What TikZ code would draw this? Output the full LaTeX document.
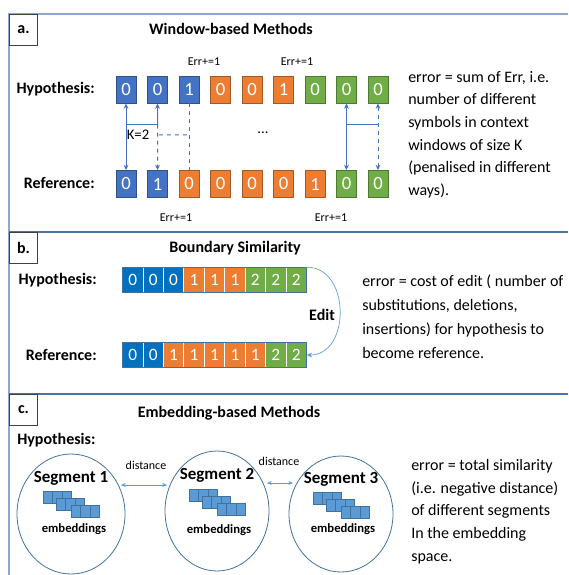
\documentclass[tikz,border=0pt]{standalone}
\usepackage{fontspec}
\setmainfont{Carlito}
\usetikzlibrary{arrows.meta,shapes.geometric,calc}
\definecolor{cblue}{HTML}{4472C4}
\definecolor{corange}{HTML}{ED7D31}
\definecolor{cgreen}{HTML}{70AD47}
\definecolor{sblue}{HTML}{0070C0}
\definecolor{framecol}{HTML}{4A74A3}
\definecolor{framelight}{HTML}{8CA8CB}
\definecolor{lblue}{HTML}{5B9BD5}
\definecolor{ellcol}{HTML}{41719C}
\definecolor{embfill}{HTML}{5B9BD5}
\begin{document}
\begin{tikzpicture}[x=0.75pt,y=-0.75pt,
  tok/.style={draw=#1!70!black, fill=#1, text=white, minimum width=15pt, minimum height=20.25pt, inner sep=0pt, line width=0.6pt, font=\fontsize{14}{14}\selectfont},
  cell/.style={draw=white, fill=#1, text=white, minimum width=15.33pt, minimum height=18.75pt, inner sep=0pt, line width=0.5pt, font=\fontsize{13}{13}\selectfont},
  lab/.style={font=\bfseries\fontsize{12}{14}\selectfont, inner sep=0pt},
  small/.style={font=\fontsize{9}{11}\selectfont, inner sep=1pt},
  desc/.style={align=left, anchor=base west, inner sep=0pt},
  pbox/.style={draw=black!75, fill=white, line width=0.8pt, minimum width=21pt, minimum height=23.25pt, inner sep=0pt, anchor=north west, font=\bfseries\fontsize{12}{14}\selectfont},
  frame/.style={framecol, line width=1.1pt},
  warr/.style={cblue, line width=0.75pt, {Stealth[length=4pt,width=3.5pt]}-{Stealth[length=4pt,width=3.5pt]}},
  wline/.style={cblue, line width=0.75pt},
  darr/.style={lblue, line width=0.7pt, {Stealth[length=3.5pt,width=3pt]}-{Stealth[length=3.5pt,width=3pt]}},
  seg/.style={draw=ellcol, line width=0.6pt, ellipse, inner sep=0pt},
  segname/.style={font=\bfseries\fontsize{12.75}{15}\selectfont, inner sep=0pt},
  emb/.style={font=\bfseries\fontsize{9.5}{11}\selectfont, inner sep=0pt},
  sq/.style={fill=embfill, draw=ellcol, line width=0.4pt},
]
\useasboundingbox (0,0) rectangle (568,575);
% frame
\draw[framelight, line width=1.1pt] (9,575) -- (9,14) -- (568,14);
\draw[frame] (9,232) -- (568,232);
\draw[frame] (9,394) -- (568,394);
\node[pbox] (pa) at (9,14) {a.};
\node[pbox] (pb) at (9,232) {b.};
\node[pbox] (pc) at (9,394) {c.};

% ---------- panel a
\node[lab] (ta) at (231,29) {Window-based Methods};
\node[lab, anchor=east] (hypa) at (95,89) {Hypothesis:};
\node[lab, anchor=east] (refa) at (95,183) {Reference:};
\foreach \v/\c [count=\i] in {0/cblue,0/cblue,1/cblue,0/corange,0/corange,1/corange,0/cgreen,0/cgreen,0/cgreen}
  \node[tok=\c] (h\i) at ({126+31.5*(\i-1)},89.5) {\v};
\foreach \v/\c [count=\i] in {0/cblue,1/cblue,0/corange,0/corange,0/corange,0/corange,1/corange,0/cgreen,0/cgreen}
  \node[tok=\c] (r\i) at ({126+31.5*(\i-1)},184) {\v};
\node[small] (ea1) at (204,62) {Err+=1};
\node[small] (ea2) at (297,62) {Err+=1};
\node[small] (eb1) at (176,218) {Err+=1};
\node[small] (eb2) at (331,218) {Err+=1};
\coordinate (j1) at ($(h1.south)!0.32!(r1.north)$);
\coordinate (j2) at ($(h2.south)!0.32!(r2.north)$);
\coordinate (j8) at ($(h8.south)!0.32!(r8.north)$);
\coordinate (j9) at ($(h9.south)!0.32!(r9.north)$);
\coordinate (d3) at ($(h3.south)!0.47!(r3.north)$);
\draw[warr] (h1.south) -- (r1.north);
\draw[wline, {Stealth[length=4pt,width=3.5pt]}-] (h2.south) -- (j2);
\draw[wline, dashed, -{Stealth[length=4pt,width=3.5pt]}] (j2) -- (r2.north);
\draw[wline] (j1) -- (j2);
\node[font=\fontsize{11}{13}\selectfont, inner sep=2pt] (k2) at (138,135) {K=2};
\draw[wline, dashed, shorten <=5pt] (k2.east) -- (d3);
\draw[wline, dashed] (h3.south) -- (r3.north);
\draw[warr] (h8.south) -- (r8.north);
\draw[warr, dashed] (h9.south) -- (r9.north);
\draw[wline] (j8) -- (j9);
\node[font=\fontsize{11}{13}\selectfont] (dots) at (263,133) {...};
\node[desc, font=\fontsize{12}{17}\selectfont] (da) at (408,195.5) {error = sum of Err, i.e.\\number of different\\symbols in context\\windows of size K\\(penalised in different\\ways).};

% ---------- panel b
\node[lab] (tb) at (235,248) {Boundary Similarity};
\node[lab, anchor=east] (hypb) at (97,280) {Hypothesis:};
\node[lab, anchor=east] (refb) at (97,355) {Reference:};
\foreach \v/\c [count=\i] in {0/sblue,0/sblue,0/sblue,1/corange,1/corange,1/corange,2/cgreen,2/cgreen,2/cgreen}
  \node[cell=\c] (hb\i) at ({122.5+20.44*(\i-0.5)},280) {\v};
\foreach \v/\c [count=\i] in {0/sblue,0/sblue,1/corange,1/corange,1/corange,1/corange,1/corange,2/cgreen,2/cgreen}
  \node[cell=\c] (rb\i) at ({122.5+20.44*(\i-0.5)},355) {\v};
\draw[ellcol, line width=0.6pt] (hb1.north west) rectangle (hb9.south east);
\draw[ellcol, line width=0.6pt] (rb1.north west) rectangle (rb9.south east);
\draw[lblue, line width=0.5pt, -{Stealth[length=4pt,width=3.5pt]}] (hb9.north east) .. controls +(44,0) and +(44,0) .. (rb9.east);
\node[lab] (edit) at (322,315) {Edit};
\node[desc, font=\fontsize{12}{18}\selectfont] (db) at (362,358) {error = cost of edit ( number of\\substitutions, deletions,\\insertions) for hypothesis to\\become reference.};

% ---------- panel c
\node[lab] (tc) at (229,413) {Embedding-based Methods};
\node[lab, anchor=west] (hypc) at (17,440) {Hypothesis:};
\node[seg, minimum width=81pt, minimum height=90pt] (s1) at (71,514) {};
\node[seg, minimum width=78pt, minimum height=90pt] (s2) at (217,511) {};
\node[seg, minimum width=78pt, minimum height=87pt] (s3) at (341,514) {};
\node[segname] (n1) at (71,478) {Segment 1};
\node[segname] (n2) at (217,475) {Segment 2};
\node[segname] (n3) at (341,479) {Segment 3};
\foreach \cx/\cy in {71/478, 217/476, 341/479}
  \foreach \dx/\dy in {0/0, 13/7, 28/14}
    \foreach \k in {0,1,2}
      \draw[sq] ({\cx-28+\dx+9.4*\k},{\cy+13+\dy}) rectangle ++(9.4,12);
\node[emb] (m1) at (74,529) {embeddings};
\node[emb] (m2) at (219,530) {embeddings};
\node[emb] (m3) at (343,529) {embeddings};
\coordinate (a1) at (121,485);
\coordinate (a2) at (167,485);
\coordinate (b1) at (267,483);
\coordinate (b2) at (293,483);
\draw[darr] (a1) -- (a2);
\draw[darr] (b1) -- (b2);
\node[small] (dl1) at (146,465) {distance};
\node[small] (dl2) at (279,461) {distance};
\node[desc, font=\fontsize{12}{17}\selectfont] (dc) at (411,561) {error = total similarity\\(i.e. negative distance)\\of different segments\\In the embedding\\space.};
\end{tikzpicture}
\end{document}
